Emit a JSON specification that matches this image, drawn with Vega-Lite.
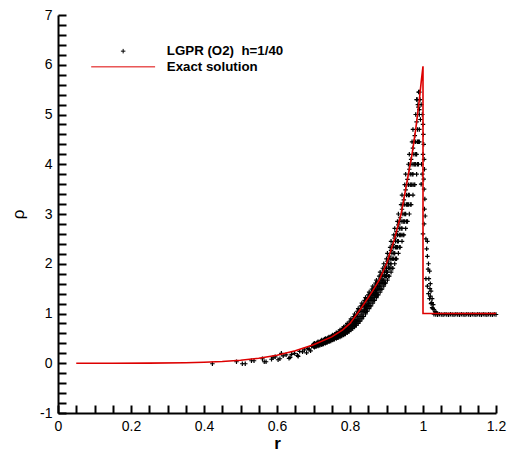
{
"$schema":"https://vega.github.io/schema/vega-lite/v6.json",
"width":438,"height":398,
"autosize":"none",
"padding":{"left":58,"top":15,"right":15,"bottom":43},
"config":{"view":{"stroke":null},"font":"Liberation Sans"},
"datasets":{
"exact":[
{"i":1,"r":0.05,"rho":0},{"i":2,"r":0.15,"rho":0},{"i":3,"r":0.25,"rho":0.002},{"i":4,"r":0.35,"rho":0.01},{"i":5,"r":0.4,"rho":0.02},{"i":6,"r":0.45,"rho":0.035},{"i":7,"r":0.5,"rho":0.06},{"i":8,"r":0.55,"rho":0.1},{"i":9,"r":0.6,"rho":0.16},{"i":10,"r":0.65,"rho":0.25},{"i":11,"r":0.7,"rho":0.37},{"i":12,"r":0.75,"rho":0.53},{"i":13,"r":0.78,"rho":0.67},{"i":14,"r":0.8,"rho":0.8},{"i":15,"r":0.83,"rho":1.1},{"i":16,"r":0.86,"rho":1.43},{"i":17,"r":0.88,"rho":1.67},{"i":18,"r":0.9,"rho":2.0},{"i":19,"r":0.92,"rho":2.45},{"i":20,"r":0.94,"rho":3.0},{"i":21,"r":0.96,"rho":3.8},{"i":22,"r":0.97,"rho":4.2},{"i":23,"r":0.98,"rho":4.7},{"i":24,"r":0.99,"rho":5.3},{"i":25,"r":0.995,"rho":5.65},{"i":26,"r":1.0,"rho":5.97},{"i":27,"r":1.0,"rho":1.0},{"i":28,"r":1.2,"rho":1.0}
],
"pts":[
{"r":0.423,"rho":-0.01},{"r":0.489,"rho":0.03},{"r":0.505,"rho":-0.01},{"r":0.513,"rho":-0.01},{"r":0.53,"rho":0.05},{"r":0.537,"rho":0.05},{"r":0.56,"rho":0.09},{"r":0.565,"rho":0.03},{"r":0.57,"rho":0.03},{"r":0.585,"rho":0.08},{"r":0.589,"rho":0.11},{"r":0.595,"rho":0.13},{"r":0.603,"rho":0.07},{"r":0.608,"rho":0.09},{"r":0.612,"rho":0.2},{"r":0.617,"rho":0.15},{"r":0.625,"rho":0.17},{"r":0.633,"rho":0.1},{"r":0.636,"rho":0.12},{"r":0.64,"rho":0.18},{"r":0.648,"rho":0.2},{"r":0.656,"rho":0.16},{"r":0.658,"rho":0.14},{"r":0.662,"rho":0.24},{"r":0.67,"rho":0.23},{"r":0.675,"rho":0.27},{"r":0.681,"rho":0.21},{"r":0.684,"rho":0.3},{"r":0.688,"rho":0.28},{"r":0.692,"rho":0.25},{"r":0.695,"rho":0.34},
{"r":0.70,"rho":0.385},{"r":0.70,"rho":0.36},{"r":0.70,"rho":0.335},
{"r":0.705,"rho":0.385},{"r":0.705,"rho":0.36},{"r":0.705,"rho":0.335},
{"r":0.71,"rho":0.415},{"r":0.71,"rho":0.385},{"r":0.71,"rho":0.36},
{"r":0.715,"rho":0.415},{"r":0.715,"rho":0.385},{"r":0.715,"rho":0.36},
{"r":0.72,"rho":0.445},{"r":0.72,"rho":0.415},{"r":0.72,"rho":0.385},
{"r":0.725,"rho":0.445},{"r":0.725,"rho":0.415},{"r":0.725,"rho":0.385},
{"r":0.73,"rho":0.48},{"r":0.73,"rho":0.445},{"r":0.73,"rho":0.415},
{"r":0.735,"rho":0.48},{"r":0.735,"rho":0.445},{"r":0.735,"rho":0.415},
{"r":0.74,"rho":0.515},{"r":0.74,"rho":0.48},{"r":0.74,"rho":0.445},
{"r":0.745,"rho":0.515},{"r":0.745,"rho":0.48},{"r":0.745,"rho":0.445},
{"r":0.75,"rho":0.55},{"r":0.75,"rho":0.515},{"r":0.75,"rho":0.48},
{"r":0.755,"rho":0.55},{"r":0.755,"rho":0.515},{"r":0.755,"rho":0.48},
{"r":0.76,"rho":0.59},{"r":0.76,"rho":0.55},{"r":0.76,"rho":0.515},
{"r":0.765,"rho":0.59},{"r":0.765,"rho":0.55},{"r":0.765,"rho":0.515},
{"r":0.77,"rho":0.64},{"r":0.77,"rho":0.59},{"r":0.77,"rho":0.55},
{"r":0.775,"rho":0.64},{"r":0.775,"rho":0.59},{"r":0.775,"rho":0.55},
{"r":0.78,"rho":0.70},{"r":0.78,"rho":0.64},{"r":0.78,"rho":0.59},
{"r":0.785,"rho":0.70},{"r":0.785,"rho":0.64},{"r":0.785,"rho":0.59},
{"r":0.79,"rho":0.765},{"r":0.79,"rho":0.70},{"r":0.79,"rho":0.64},
{"r":0.795,"rho":0.765},{"r":0.795,"rho":0.70},{"r":0.795,"rho":0.64},
{"r":0.80,"rho":0.845},{"r":0.80,"rho":0.765},{"r":0.80,"rho":0.70},
{"r":0.805,"rho":0.845},{"r":0.805,"rho":0.765},{"r":0.805,"rho":0.70},
{"r":0.81,"rho":0.94},{"r":0.81,"rho":0.845},{"r":0.81,"rho":0.765},
{"r":0.815,"rho":0.94},{"r":0.815,"rho":0.845},{"r":0.815,"rho":0.765},
{"r":0.82,"rho":1.045},{"r":0.82,"rho":0.94},{"r":0.82,"rho":0.845},
{"r":0.825,"rho":1.045},{"r":0.825,"rho":0.94},{"r":0.825,"rho":0.845},
{"r":0.83,"rho":1.155},{"r":0.83,"rho":1.045},{"r":0.83,"rho":0.94},
{"r":0.835,"rho":1.155},{"r":0.835,"rho":1.045},{"r":0.835,"rho":0.94},
{"r":0.84,"rho":1.265},{"r":0.84,"rho":1.155},{"r":0.84,"rho":1.045},
{"r":0.845,"rho":1.265},{"r":0.845,"rho":1.155},{"r":0.845,"rho":1.045},
{"r":0.85,"rho":1.375},{"r":0.85,"rho":1.265},{"r":0.85,"rho":1.155},{"r":0.85,"rho":1.21},
{"r":0.855,"rho":1.375},{"r":0.855,"rho":1.265},{"r":0.855,"rho":1.155},{"r":0.855,"rho":1.32},
{"r":0.86,"rho":1.49},{"r":0.86,"rho":1.375},{"r":0.86,"rho":1.265},{"r":0.86,"rho":1.32},
{"r":0.865,"rho":1.49},{"r":0.865,"rho":1.375},{"r":0.865,"rho":1.265},{"r":0.865,"rho":1.43},
{"r":0.87,"rho":1.61},{"r":0.87,"rho":1.49},{"r":0.87,"rho":1.375},{"r":0.87,"rho":1.43},
{"r":0.875,"rho":1.61},{"r":0.875,"rho":1.49},{"r":0.875,"rho":1.375},{"r":0.875,"rho":1.55},
{"r":0.88,"rho":1.75},{"r":0.88,"rho":1.61},{"r":0.88,"rho":1.49},{"r":0.88,"rho":1.55},
{"r":0.885,"rho":1.75},{"r":0.885,"rho":1.61},{"r":0.885,"rho":1.49},{"r":0.885,"rho":1.67},
{"r":0.89,"rho":1.91},{"r":0.89,"rho":1.75},{"r":0.89,"rho":1.61},{"r":0.89,"rho":1.67},
{"r":0.895,"rho":1.91},{"r":0.895,"rho":1.75},{"r":0.895,"rho":1.61},{"r":0.895,"rho":1.83},
{"r":0.90,"rho":2.10},{"r":0.90,"rho":1.91},{"r":0.90,"rho":1.75},{"r":0.90,"rho":1.83},
{"r":0.905,"rho":2.10},{"r":0.905,"rho":1.91},{"r":0.905,"rho":1.75},{"r":0.905,"rho":2.00},
{"r":0.91,"rho":2.33},{"r":0.91,"rho":2.10},{"r":0.91,"rho":1.91},{"r":0.91,"rho":2.00},
{"r":0.915,"rho":2.33},{"r":0.915,"rho":2.10},{"r":0.915,"rho":1.91},{"r":0.915,"rho":2.21},
{"r":0.92,"rho":2.58},{"r":0.92,"rho":2.33},{"r":0.92,"rho":2.10},{"r":0.92,"rho":2.21},
{"r":0.925,"rho":2.58},{"r":0.925,"rho":2.33},{"r":0.925,"rho":2.10},{"r":0.925,"rho":2.45},
{"r":0.93,"rho":2.85},{"r":0.93,"rho":2.58},{"r":0.93,"rho":2.33},{"r":0.93,"rho":2.45},
{"r":0.935,"rho":2.85},{"r":0.935,"rho":2.58},{"r":0.935,"rho":2.33},{"r":0.935,"rho":2.71},
{"r":0.94,"rho":3.19},{"r":0.94,"rho":2.85},{"r":0.94,"rho":2.58},{"r":0.94,"rho":2.71},
{"r":0.945,"rho":3.19},{"r":0.945,"rho":2.85},{"r":0.945,"rho":2.58},{"r":0.945,"rho":3.00},
{"r":0.95,"rho":3.59},{"r":0.95,"rho":3.19},{"r":0.95,"rho":2.85},{"r":0.95,"rho":3.00},
{"r":0.955,"rho":3.59},{"r":0.955,"rho":3.19},{"r":0.955,"rho":2.85},{"r":0.955,"rho":3.38},
{"r":0.96,"rho":4.00},{"r":0.96,"rho":3.59},{"r":0.96,"rho":3.19},{"r":0.96,"rho":3.38},
{"r":0.965,"rho":4.00},{"r":0.965,"rho":3.59},{"r":0.965,"rho":3.19},{"r":0.965,"rho":3.80},
{"r":0.97,"rho":4.45},{"r":0.97,"rho":4.00},{"r":0.97,"rho":3.59},{"r":0.97,"rho":3.80},
{"r":0.975,"rho":4.45},{"r":0.975,"rho":4.00},{"r":0.975,"rho":3.59},{"r":0.975,"rho":4.20},
{"r":0.98,"rho":5.00},{"r":0.98,"rho":4.45},{"r":0.98,"rho":4.00},{"r":0.98,"rho":4.20},
{"r":0.985,"rho":5.00},{"r":0.985,"rho":4.45},{"r":0.985,"rho":4.00},{"r":0.985,"rho":4.70},
{"r":0.99,"rho":5.45},{"r":0.99,"rho":5.00},{"r":0.99,"rho":4.45},{"r":0.99,"rho":4.70},
{"r":0.7025,"rho":0.3775},{"r":0.7025,"rho":0.345},{"r":0.7025,"rho":0.32},{"r":0.7025,"rho":0.40},
{"r":0.7075,"rho":0.3925},{"r":0.7075,"rho":0.36},{"r":0.7075,"rho":0.335},
{"r":0.7125,"rho":0.4075},{"r":0.7125,"rho":0.37},{"r":0.7125,"rho":0.345},{"r":0.7125,"rho":0.43},
{"r":0.7175,"rho":0.4225},{"r":0.7175,"rho":0.385},{"r":0.7175,"rho":0.36},
{"r":0.7225,"rho":0.4375},{"r":0.7225,"rho":0.40},{"r":0.7225,"rho":0.37},{"r":0.7225,"rho":0.465},
{"r":0.7275,"rho":0.455},{"r":0.7275,"rho":0.415},{"r":0.7275,"rho":0.385},
{"r":0.7325,"rho":0.4725},{"r":0.7325,"rho":0.43},{"r":0.7325,"rho":0.40},{"r":0.7325,"rho":0.50},
{"r":0.7375,"rho":0.49},{"r":0.7375,"rho":0.445},{"r":0.7375,"rho":0.415},
{"r":0.7425,"rho":0.5075},{"r":0.7425,"rho":0.465},{"r":0.7425,"rho":0.43},{"r":0.7425,"rho":0.53},
{"r":0.7475,"rho":0.5225},{"r":0.7475,"rho":0.48},{"r":0.7475,"rho":0.445},
{"r":0.7525,"rho":0.54},{"r":0.7525,"rho":0.50},{"r":0.7525,"rho":0.465},{"r":0.7525,"rho":0.57},
{"r":0.7575,"rho":0.56},{"r":0.7575,"rho":0.515},{"r":0.7575,"rho":0.48},
{"r":0.7625,"rho":0.58},{"r":0.7625,"rho":0.53},{"r":0.7625,"rho":0.50},{"r":0.7625,"rho":0.615},
{"r":0.7675,"rho":0.6025},{"r":0.7675,"rho":0.55},{"r":0.7675,"rho":0.515},
{"r":0.7725,"rho":0.6275},{"r":0.7725,"rho":0.57},{"r":0.7725,"rho":0.53},{"r":0.7725,"rho":0.67},
{"r":0.7775,"rho":0.655},{"r":0.7775,"rho":0.59},{"r":0.7775,"rho":0.55},
{"r":0.7825,"rho":0.685},{"r":0.7825,"rho":0.615},{"r":0.7825,"rho":0.57},{"r":0.7825,"rho":0.73},
{"r":0.7875,"rho":0.715},{"r":0.7875,"rho":0.64},{"r":0.7875,"rho":0.59},
{"r":0.7925,"rho":0.7475},{"r":0.7925,"rho":0.67},{"r":0.7925,"rho":0.615},{"r":0.7925,"rho":0.80},
{"r":0.7975,"rho":0.7825},{"r":0.7975,"rho":0.70},{"r":0.7975,"rho":0.64},
{"r":0.8025,"rho":0.8225},{"r":0.8025,"rho":0.73},{"r":0.8025,"rho":0.67},{"r":0.8025,"rho":0.89},
{"r":0.8075,"rho":0.8675},{"r":0.8075,"rho":0.765},{"r":0.8075,"rho":0.70},
{"r":0.8125,"rho":0.915},{"r":0.8125,"rho":0.80},{"r":0.8125,"rho":0.73},{"r":0.8125,"rho":0.99},
{"r":0.8175,"rho":0.965},{"r":0.8175,"rho":0.845},{"r":0.8175,"rho":0.765},
{"r":0.8225,"rho":1.0175},{"r":0.8225,"rho":0.89},{"r":0.8225,"rho":0.80},{"r":0.8225,"rho":1.10},
{"r":0.8275,"rho":1.0725},{"r":0.8275,"rho":0.94},{"r":0.8275,"rho":0.845},
{"r":0.8325,"rho":1.1275},{"r":0.8325,"rho":0.99},{"r":0.8325,"rho":0.89},{"r":0.8325,"rho":1.21},
{"r":0.8375,"rho":1.1825},{"r":0.8375,"rho":1.045},{"r":0.8375,"rho":0.94},
{"r":0.8425,"rho":1.2375},{"r":0.8425,"rho":1.10},{"r":0.8425,"rho":0.99},{"r":0.8425,"rho":1.32},
{"r":0.8475,"rho":1.2925},{"r":0.8475,"rho":1.155},{"r":0.8475,"rho":1.045},
{"r":0.8525,"rho":1.3475},{"r":0.8525,"rho":1.21},{"r":0.8525,"rho":1.10},{"r":0.8525,"rho":1.43},
{"r":0.8575,"rho":1.4025},{"r":0.8575,"rho":1.265},{"r":0.8575,"rho":1.155},
{"r":0.8625,"rho":1.46},{"r":0.8625,"rho":1.32},{"r":0.8625,"rho":1.21},{"r":0.8625,"rho":1.55},
{"r":0.8675,"rho":1.52},{"r":0.8675,"rho":1.375},{"r":0.8675,"rho":1.265},
{"r":0.8725,"rho":1.58},{"r":0.8725,"rho":1.43},{"r":0.8725,"rho":1.32},{"r":0.8725,"rho":1.67},
{"r":0.8775,"rho":1.64},{"r":0.8775,"rho":1.49},{"r":0.8775,"rho":1.375},
{"r":0.8825,"rho":1.71},{"r":0.8825,"rho":1.55},{"r":0.8825,"rho":1.43},{"r":0.8825,"rho":1.83},
{"r":0.8875,"rho":1.79},{"r":0.8875,"rho":1.61},{"r":0.8875,"rho":1.49},
{"r":0.8925,"rho":1.87},{"r":0.8925,"rho":1.67},{"r":0.8925,"rho":1.55},{"r":0.8925,"rho":2.00},
{"r":0.8975,"rho":1.955},{"r":0.8975,"rho":1.75},{"r":0.8975,"rho":1.61},
{"r":0.9025,"rho":2.05},{"r":0.9025,"rho":1.83},{"r":0.9025,"rho":1.67},{"r":0.9025,"rho":2.21},
{"r":0.9075,"rho":2.155},{"r":0.9075,"rho":1.91},{"r":0.9075,"rho":1.75},
{"r":0.9125,"rho":2.27},{"r":0.9125,"rho":2.00},{"r":0.9125,"rho":1.83},{"r":0.9125,"rho":2.45},
{"r":0.9175,"rho":2.39},{"r":0.9175,"rho":2.10},{"r":0.9175,"rho":1.91},
{"r":0.9225,"rho":2.515},{"r":0.9225,"rho":2.21},{"r":0.9225,"rho":2.00},{"r":0.9225,"rho":2.71},
{"r":0.9275,"rho":2.645},{"r":0.9275,"rho":2.33},{"r":0.9275,"rho":2.10},
{"r":0.9325,"rho":2.78},{"r":0.9325,"rho":2.45},{"r":0.9325,"rho":2.21},{"r":0.9325,"rho":3.00},
{"r":0.9375,"rho":2.925},{"r":0.9375,"rho":2.58},{"r":0.9375,"rho":2.33},
{"r":0.9425,"rho":3.095},{"r":0.9425,"rho":2.71},{"r":0.9425,"rho":2.45},{"r":0.9425,"rho":3.38},
{"r":0.9475,"rho":3.285},{"r":0.9475,"rho":2.85},{"r":0.9475,"rho":2.58},
{"r":0.9525,"rho":3.485},{"r":0.9525,"rho":3.00},{"r":0.9525,"rho":2.71},{"r":0.9525,"rho":3.80},
{"r":0.9575,"rho":3.695},{"r":0.9575,"rho":3.19},{"r":0.9575,"rho":2.85},
{"r":0.9625,"rho":3.9},{"r":0.9625,"rho":3.38},{"r":0.9625,"rho":3.00},{"r":0.9625,"rho":4.20},
{"r":0.9675,"rho":4.1},{"r":0.9675,"rho":3.59},{"r":0.9675,"rho":3.19},
{"r":0.9725,"rho":4.325},{"r":0.9725,"rho":3.80},{"r":0.9725,"rho":3.38},{"r":0.9725,"rho":4.70},
{"r":0.9775,"rho":4.575},{"r":0.9775,"rho":4.00},{"r":0.9775,"rho":3.59},
{"r":0.9825,"rho":4.85},{"r":0.9825,"rho":4.20},{"r":0.9825,"rho":3.80},{"r":0.9825,"rho":5.30},
{"r":0.9875,"rho":5.15},{"r":0.9875,"rho":4.45},{"r":0.9875,"rho":4.00},
{"r":0.984,"rho":5.3},{"r":0.988,"rho":5.45},{"r":0.986,"rho":5.2},{"r":0.99,"rho":5.1},{"r":0.992,"rho":5.3},{"r":0.993,"rho":4.9},
{"r":0.995,"rho":5.2},{"r":0.998,"rho":5.0},{"r":1.0,"rho":4.8},{"r":1.001,"rho":4.6},{"r":1.002,"rho":4.4},{"r":1.0,"rho":4.2},{"r":1.003,"rho":4.1},{"r":1.004,"rho":3.9},{"r":0.998,"rho":3.8},{"r":0.996,"rho":4.0},{"r":0.995,"rho":3.6},{"r":1.002,"rho":3.7},{"r":1.003,"rho":3.5},{"r":1.005,"rho":3.3},{"r":1.004,"rho":3.1},{"r":1.006,"rho":2.96},{"r":1.003,"rho":2.8},{"r":1.0,"rho":2.6},{"r":1.008,"rho":2.5},{"r":1.012,"rho":2.45},{"r":1.01,"rho":2.3},{"r":1.012,"rho":2.15},{"r":1.015,"rho":2.0},{"r":1.014,"rho":1.89},{"r":1.018,"rho":1.85},{"r":1.016,"rho":1.7},{"r":1.008,"rho":1.7},{"r":1.02,"rho":1.6},{"r":1.012,"rho":1.55},{"r":1.019,"rho":1.5},{"r":1.022,"rho":1.45},{"r":1.015,"rho":1.4},{"r":1.02,"rho":1.35},{"r":1.025,"rho":1.3},{"r":1.018,"rho":1.3},{"r":1.024,"rho":1.22},{"r":1.022,"rho":1.2},{"r":1.028,"rho":1.18},{"r":1.025,"rho":1.12},{"r":1.027,"rho":1.1},{"r":1.03,"rho":1.08},{"r":1.033,"rho":1.04},{"r":1.036,"rho":1.02},{"r":1.04,"rho":1.0},
{"r":1.03,"rho":0.985},{"r":1.035,"rho":0.98},{"r":1.04,"rho":0.975},{"r":1.045,"rho":0.985},{"r":1.05,"rho":0.98},{"r":1.055,"rho":0.975},{"r":1.06,"rho":0.985},{"r":1.065,"rho":0.98},{"r":1.07,"rho":0.975},{"r":1.075,"rho":0.985},{"r":1.08,"rho":0.98},{"r":1.085,"rho":0.975},{"r":1.09,"rho":0.985},{"r":1.095,"rho":0.98},{"r":1.1,"rho":0.975},{"r":1.105,"rho":0.985},{"r":1.11,"rho":0.98},{"r":1.115,"rho":0.975},{"r":1.12,"rho":0.985},{"r":1.125,"rho":0.98},{"r":1.13,"rho":0.975},{"r":1.135,"rho":0.985},{"r":1.14,"rho":0.98},{"r":1.145,"rho":0.975},{"r":1.15,"rho":0.985},{"r":1.155,"rho":0.98},{"r":1.16,"rho":0.975},{"r":1.165,"rho":0.985},{"r":1.17,"rho":0.98},{"r":1.175,"rho":0.975},{"r":1.18,"rho":0.985},{"r":1.185,"rho":0.98},{"r":1.19,"rho":0.975},{"r":1.195,"rho":0.985},{"r":1.2,"rho":0.98}
]},
"encoding":{
  "x":{"field":"r","type":"quantitative","scale":{"domain":[0,1.2],"nice":false,"zero":false},
   "axis":{"values":[0,0.05,0.1,0.15,0.2,0.25,0.3,0.35,0.4,0.45,0.5,0.55,0.6,0.65,0.7,0.75,0.8,0.85,0.9,0.95,1,1.05,1.1,1.15,1.2],
    "labelExpr":"abs(datum.value*5 - round(datum.value*5)) < 0.001 ? format(datum.value,'~g') : ''",
    "grid":false,"tickSize":-8,"tickWidth":2,"tickColor":"#000000","domainColor":"#000000","domainWidth":2,
    "labelPadding":14,"labelFontSize":14,"labelColor":"#000000","labelFont":"Liberation Sans","labelFlush":false,"labelOverlap":false,
    "title":"r","titleFontSize":17,"titleFontWeight":"bold","titleColor":"#000000","titleFont":"Liberation Sans","titlePadding":2,
    "encode":{"ticks":{"update":{"y2":{"signal":"abs(datum.value*5 - round(datum.value*5)) < 0.001 ? -8 : -5"},"strokeWidth":{"signal":"abs(datum.value*5 - round(datum.value*5)) < 0.001 ? 2 : 1.5"}}}}}},
  "y":{"field":"rho","type":"quantitative","scale":{"domain":[-1,7],"nice":false,"zero":false},
   "axis":{"values":[-1,-0.8,-0.6,-0.4,-0.2,0,0.2,0.4,0.6,0.8,1,1.2,1.4,1.6,1.8,2,2.2,2.4,2.6,2.8,3,3.2,3.4,3.6,3.8,4,4.2,4.4,4.6,4.8,5,5.2,5.4,5.6,5.8,6,6.2,6.4,6.6,6.8,7],
    "labelExpr":"abs(datum.value - round(datum.value)) < 0.001 ? (datum.value < 0 ? '-' + format(-datum.value,'~g') : format(datum.value,'~g')) : ''",
    "grid":false,"tickSize":-8,"tickWidth":2,"tickColor":"#000000","domainColor":"#000000","domainWidth":2,
    "labelPadding":14,"labelFontSize":14,"labelColor":"#000000","labelFont":"Liberation Sans","labelFlush":false,"labelOverlap":false,
    "title":"ρ","titleFontSize":17,"titleFontWeight":"normal","titleColor":"#000000","titleFont":"Liberation Sans","titlePadding":12,
    "encode":{"ticks":{"update":{"x2":{"signal":"abs(datum.value - round(datum.value)) < 0.001 ? 8 : 5"},"strokeWidth":{"signal":"abs(datum.value - round(datum.value)) < 0.001 ? 2 : 1.5"}}}}}}
},
"layer":[
{"data":{"name":"pts"},
 "mark":{"type":"point","filled":false,"strokeWidth":1.2,"opacity":1,"size":81},
 "encoding":{
  "color":{"datum":"LGPR (O2)\u00a0 h=1/40","scale":{"domain":["LGPR (O2)\u00a0 h=1/40","Exact solution"],"range":["#000000","#dd0000"]},
   "legend":{"title":null,"orient":"none","legendX":58.5,"legendY":29.5,"direction":"vertical","padding":0,"labelFontSize":13.3,"labelFontWeight":"bold","labelFont":"Liberation Sans","labelColor":"#000000","labelOffset":37,"symbolSize":81,"symbolStrokeWidth":1,"rowPadding":1.7}},
  "shape":{"datum":"LGPR (O2)\u00a0 h=1/40","scale":{"domain":["LGPR (O2)\u00a0 h=1/40","Exact solution"],"range":["M-0.5,0H0.5M0,-0.5V0.5","M-7.1,0H7.1"]}}
 }},
{"data":{"name":"exact"},
 "mark":{"type":"line","color":"#dd0000","strokeWidth":1.6},
 "encoding":{"order":{"field":"i","type":"quantitative"}}}
]
}
